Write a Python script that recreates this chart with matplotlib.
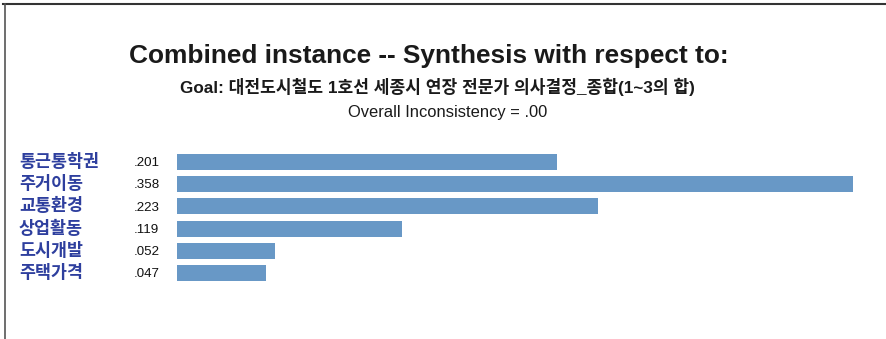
import matplotlib
matplotlib.use("Agg")
import matplotlib.pyplot as plt
from matplotlib.lines import Line2D
import matplotlib.transforms as mtransforms

plt.rcParams['font.family'] = ['Liberation Sans', 'Noto Sans CJK KR', 'DejaVu Sans']

categories = ["통근통학권", "주거이동", "교통환경", "상업활동", "도시개발", "주택가격"]
values = [0.201, 0.358, 0.223, 0.119, 0.052, 0.047]
value_labels = [".201", ".358", ".223", ".119", ".052", ".047"]

title = "Combined instance -- Synthesis with respect to:"
subtitle = "Goal: 대전도시철도 1호선 세종시 연장 전문가 의사결정_종합(1~3의 합)"
inconsistency = "Overall Inconsistency = .00"

W, H = 887, 339
fig = plt.figure(figsize=(W / 100, H / 100), dpi=100)

def fx(px):
    return px / W

def fy(py):
    return 1 - py / H

ax_left, ax_right = 177, 853
ax_top, ax_bot = 150.85, 284.15
ax = fig.add_axes([fx(ax_left), fy(ax_bot), fx(ax_right - ax_left), (ax_bot - ax_top) / H])
ypos = list(range(len(categories)))
ax.barh(ypos, values, height=0.72, color="#6898c6", edgecolor="none")
ax.set_xlim(0, max(values))
ax.set_ylim(len(categories) - 0.5, -0.5)
ax.axis("off")

trans = mtransforms.blended_transform_factory(fig.transFigure, ax.transData)
for i, (c, v) in enumerate(zip(categories, value_labels)):
    ax.text(fx(19), i - 0.02, c, transform=trans, fontsize=12.5, fontweight="bold",
            color="#2e3f9e", ha="left", va="center")
    ax.text(fx(134), i + 0.05, v, transform=trans, fontsize=9.6, color="#111111",
            ha="left", va="center")

fig.text(fx(429), fy(56), title, fontsize=18.9, fontweight="bold", color="#1a1a1a",
         ha="center", va="center")
fig.text(fx(437), fy(87), subtitle, fontsize=12.3, fontweight="bold", color="#1a1a1a",
         ha="center", va="center")
fig.text(fx(448), fy(113), inconsistency, fontsize=11.9, color="#1a1a1a",
         ha="center", va="center")

# frame lines (top and left)
fig.add_artist(Line2D([fx(3), 1], [fy(3.5), fy(3.5)], color="#333333", lw=1.5,
                      transform=fig.transFigure))
fig.add_artist(Line2D([fx(5), fx(5)], [0, fy(3.5)], color="#555555", lw=1.2,
                      transform=fig.transFigure))

fig.savefig("out.png", dpi=100)
